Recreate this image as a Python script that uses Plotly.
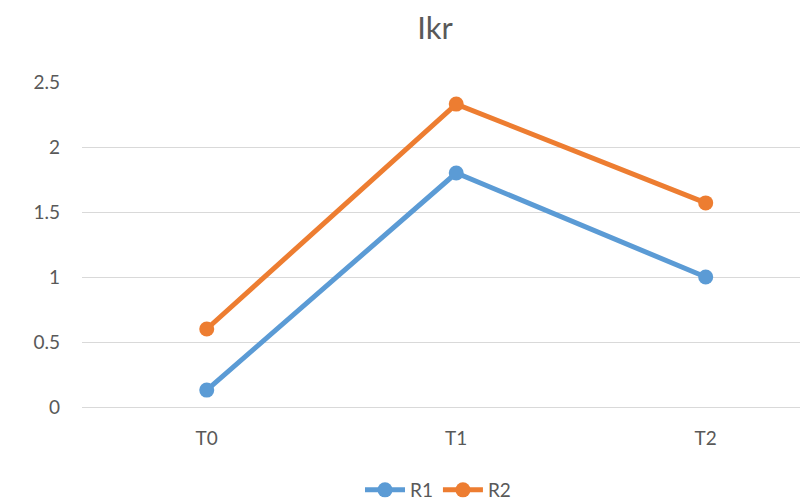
import plotly.graph_objects as go

categories = ["T0", "T1", "T2"]
r1_values = [0.13, 1.80, 1.00]
r2_values = [0.60, 2.33, 1.57]
y_ticks = [0, 0.5, 1, 1.5, 2, 2.5]
y_tick_labels = ["0", "0.5", "1", "1.5", "2", "2.5"]

FONT = "Lato"
GRAY = "#595959"
# the page body has an 8px margin, so the figure is sized and offset to compensate
W, H, OFF = 800, 494, 8

fig = go.Figure()
fig.add_trace(go.Scatter(
    x=categories, y=r1_values, name="R1", mode="lines+markers",
    line=dict(color="#5B9BD5", width=5),
    marker=dict(color="#5B9BD5", size=15),
))
fig.add_trace(go.Scatter(
    x=categories, y=r2_values, name="R2", mode="lines+markers",
    line=dict(color="#ED7D31", width=5),
    marker=dict(color="#ED7D31", size=15),
))

fig.update_layout(
    width=W, height=H,
    margin=dict(l=82 - OFF, r=0, t=82 - OFF, b=95, autoexpand=False),
    paper_bgcolor="white", plot_bgcolor="white",
    font=dict(family=FONT, size=19, color=GRAY),
    title=dict(text="Ikr", x=(435 - OFF) / W, xref="container", xanchor="center",
               y=1 - (28 - OFF) / H, yref="container", yanchor="middle",
               font=dict(family=FONT, size=31, color=GRAY)),
    xaxis=dict(type="category", range=[-0.5, 2.41], showgrid=False,
               showline=False, zeroline=False, ticks="",
               ticklabelstandoff=18,
               tickfont=dict(family=FONT, size=19, color=GRAY)),
    yaxis=dict(range=[0, 2.5], tickvals=y_ticks, ticktext=y_tick_labels,
               showgrid=True, gridcolor="#D9D9D9", gridwidth=1,
               zeroline=True, zerolinecolor="#D9D9D9", zerolinewidth=1,
               showline=False, ticks="", ticklabelstandoff=21,
               tickfont=dict(family=FONT, size=19, color=GRAY)),
    legend=dict(orientation="h", xref="container", x=(438 - OFF) / W, xanchor="center",
                yref="container", y=1 - (490 - OFF) / H, yanchor="middle",
                font=dict(family=FONT, size=19, color=GRAY),
                itemwidth=40,
                bgcolor="rgba(0,0,0,0)"),
    showlegend=True,
)

fig.write_html("out.html")
